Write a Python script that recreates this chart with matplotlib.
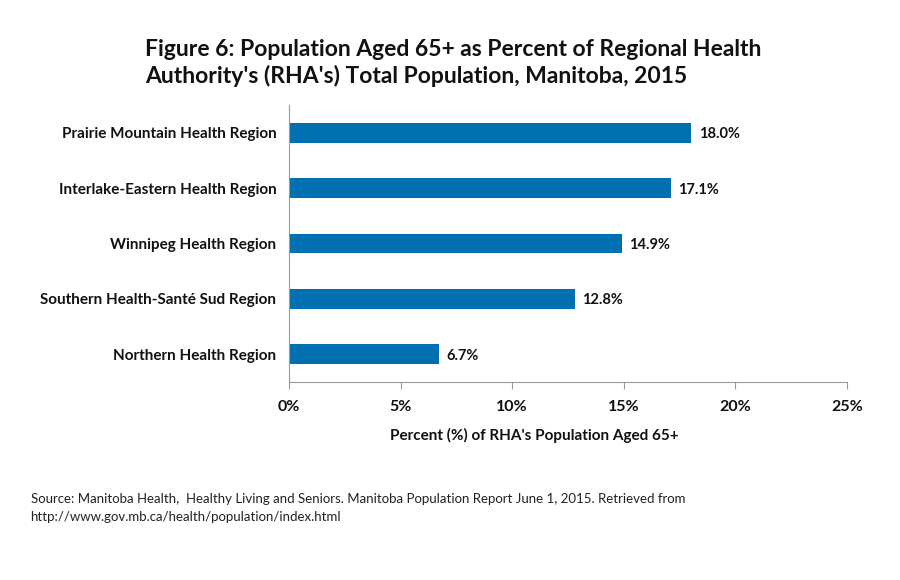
import matplotlib
matplotlib.use('Agg')
import matplotlib.pyplot as plt

# data (top to bottom as in the chart)
regions = ["Prairie Mountain Health Region",
           "Interlake-Eastern Health Region",
           "Winnipeg Health Region",
           "Southern Health-Santé Sud Region",
           "Northern Health Region"]
pct_65plus = [18.0, 17.1, 14.9, 12.8, 6.7]
xticks = [0, 5, 10, 15, 20, 25]

plt.rcParams['font.family'] = ['Lato', 'DejaVu Sans']

fig = plt.figure(figsize=(9, 5.8), dpi=100)
ax = fig.add_axes([0.3211, 0.3414, 0.62, 0.4776])

ypos = list(range(len(regions)))[::-1]
ax.barh(ypos, pct_65plus, height=0.36, color='#0070b0')

for y, v in zip(ypos, pct_65plus):
	ax.text(v + 0.35, y, "%.1f%%" % v, va='center_baseline', ha='left',
			fontsize=10.5, fontweight='bold', color='#111111')

ax.set_xlim(0, 25)
ax.set_ylim(-0.5, 4.5)
ax.set_yticks(ypos)
ax.set_yticklabels(regions, fontsize=11, fontweight='bold', color='#111111', va='center_baseline')
ax.set_xticks(xticks)
ax.set_xticklabels(["%d%%" % t for t in xticks], fontsize=11.5, fontweight='bold', color='#111111')
ax.tick_params(axis='y', length=0, pad=9)
ax.tick_params(axis='x', length=5, direction='out', color='#999999', pad=8)

for s in ['top', 'right']:
	ax.spines[s].set_visible(False)
ax.spines['left'].set_color('#999999')
ax.spines['bottom'].set_color('#999999')
ax.set_facecolor('none')

fig.text(0.161, 0.891, "Figure 6: Population Aged 65+ as Percent of Regional Health\nAuthority's (RHA's) Total Population, Manitoba, 2015",
		 fontsize=16.5, fontweight='bold', va='center', ha='left', linespacing=1.27, color='#111111')
fig.text(0.594, 0.25, "Percent (%) of RHA's Population Aged 65+", fontsize=11,
		 fontweight='bold', ha='center', va='center', color='#111111')
fig.text(0.034, 0.124, "Source: Manitoba Health,  Healthy Living and Seniors. Manitoba Population Report June 1, 2015. Retrieved from\nhttp://www.gov.mb.ca/health/population/index.html",
		 fontsize=9.5, ha='left', va='center', linespacing=1.55, color='#222222')

plt.savefig('out.png', dpi=100, facecolor='white')
